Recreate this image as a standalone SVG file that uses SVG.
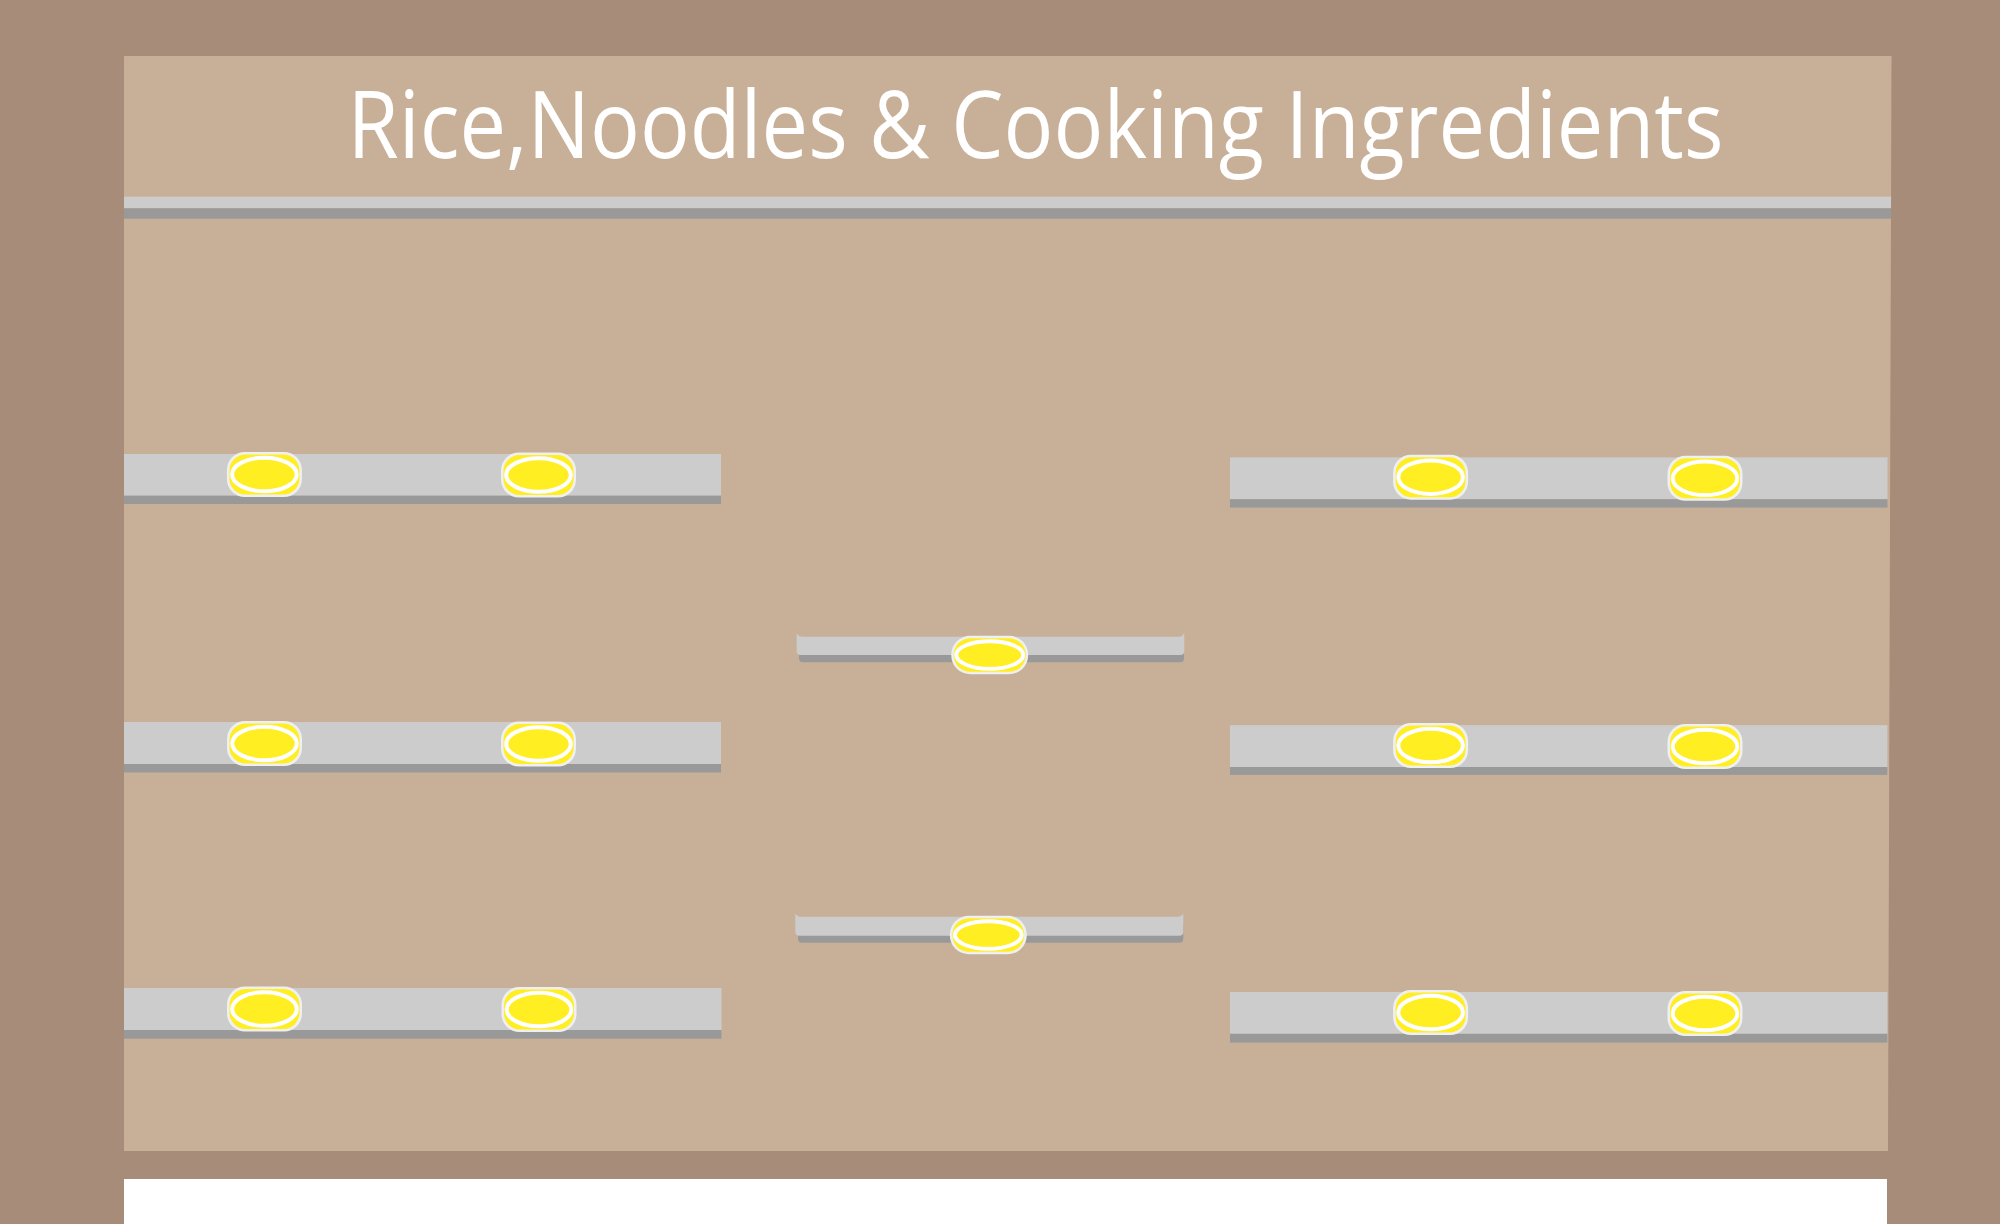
<svg xmlns="http://www.w3.org/2000/svg" width="2000" height="1224" viewBox="0 0 2000 1224">
<style>
.bg{fill:#A78C7A}
.panel{fill:#C8B098}
.lite{fill:#CCCCCC}
.dark{fill:#999999}
.title{font-family:"Open Sans","Liberation Sans",sans-serif;font-size:93px;fill:#FFFFFF}
</style>
<defs>
<g id="lamp">
<rect x="-37.5" y="-22.5" width="75" height="45" rx="18" fill="#F0F0F0"/>
<rect x="-35" y="-20" width="70" height="40" rx="16" fill="#FFEE22"/>
<ellipse cx="0" cy="0" rx="32.3" ry="16.8" fill="#FFEE22" stroke="#FFFFFF" stroke-width="4"/>
</g>
<g id="lampSmall">
<rect x="-38.5" y="-19.3" width="77" height="38.6" rx="19.3" fill="#F0F0F0"/>
<rect x="-36" y="-16.8" width="72" height="33.6" rx="16.8" fill="#FFEE22"/>
<ellipse cx="0" cy="0" rx="33.4" ry="13.8" fill="#FFEE22" stroke="#FFFFFF" stroke-width="4"/>
</g>
</defs>
<rect class="bg" x="0" y="0" width="2000" height="1224"/>
<polygon class="panel" points="124,56 1891.5,56 1888,1151 124,1151"/>
<rect x="124" y="1179" width="1763" height="45" fill="#FFFFFF"/>

<g id="title">
<text class="title" x="347.5" y="157.5" textLength="1376" lengthAdjust="spacingAndGlyphs">Rice,Noodles &amp; Cooking Ingredients</text>
</g>
<g id="top-strip">
<rect class="lite" x="124" y="196.7" width="1767" height="11.6"/>
<rect class="dark" x="124" y="208.3" width="1767" height="10.4"/>
</g>

<g id="shelf-left-1">
<rect class="lite" x="124" y="454" width="597" height="41.7"/>
<rect class="dark" x="124" y="495.7" width="597" height="8.3"/>
<use href="#lamp" x="264.4" y="474.5"/>
<use href="#lamp" x="538.5" y="475"/>
</g>
<g id="shelf-left-2">
<rect class="lite" x="124" y="722" width="597" height="42"/>
<rect class="dark" x="124" y="764" width="597" height="8.5"/>
<use href="#lamp" x="264.5" y="743.5"/>
<use href="#lamp" x="538.5" y="744"/>
</g>
<g id="shelf-left-3">
<rect class="lite" x="124" y="988" width="597.5" height="42"/>
<rect class="dark" x="124" y="1030" width="597.5" height="8.7"/>
<use href="#lamp" x="264.5" y="1009"/>
<use href="#lamp" x="539" y="1009.5"/>
</g>

<g id="shelf-right-1">
<rect class="lite" x="1230" y="457.4" width="657.5" height="41.8"/>
<rect class="dark" x="1230" y="499.2" width="657.5" height="8.4"/>
<use href="#lamp" x="1430.6" y="477.2"/>
<use href="#lamp" x="1705" y="478.3"/>
</g>
<g id="shelf-right-2">
<rect class="lite" x="1230" y="725.2" width="657.3" height="41.8"/>
<rect class="dark" x="1230" y="767" width="657.3" height="7.9"/>
<use href="#lamp" x="1430.6" y="745.5"/>
<use href="#lamp" x="1705" y="746.5"/>
</g>
<g id="shelf-right-3">
<rect class="lite" x="1230" y="992" width="657.3" height="41.8"/>
<rect class="dark" x="1230" y="1033.8" width="657.3" height="8.8"/>
<use href="#lamp" x="1430.6" y="1012.5"/>
<use href="#lamp" x="1705" y="1013.5"/>
</g>

<g id="shelf-middle-1">
<path class="dark" d="M799,645 L1184,645 L1184,658 Q1184,662.3 1180,662.3 L803,662.3 Q799,662.3 799,658 Z"/>
<path class="lite" d="M796.7,633 Q798,636.7 802.5,636.7 L1178.5,636.7 Q1183,636.7 1184.3,633 L1184.3,651 Q1184.3,655 1180.3,655 L800.7,655 Q796.7,655 796.7,651 Z"/>
<use href="#lampSmall" x="989.7" y="655"/>
</g>
<g id="shelf-middle-2">
<path class="dark" d="M798,925 L1183.3,925 L1183.3,938.5 Q1183.3,942.7 1179.3,942.7 L802,942.7 Q798,942.7 798,938.5 Z"/>
<path class="lite" d="M795.3,913.3 Q796.6,916.7 801,916.7 L1177.5,916.7 Q1182,916.7 1183.3,913.3 L1183.3,931.7 Q1183.3,935.7 1179.3,935.7 L799.3,935.7 Q795.3,935.7 795.3,931.7 Z"/>
<use href="#lampSmall" x="988.3" y="935"/>
</g>
</svg>
